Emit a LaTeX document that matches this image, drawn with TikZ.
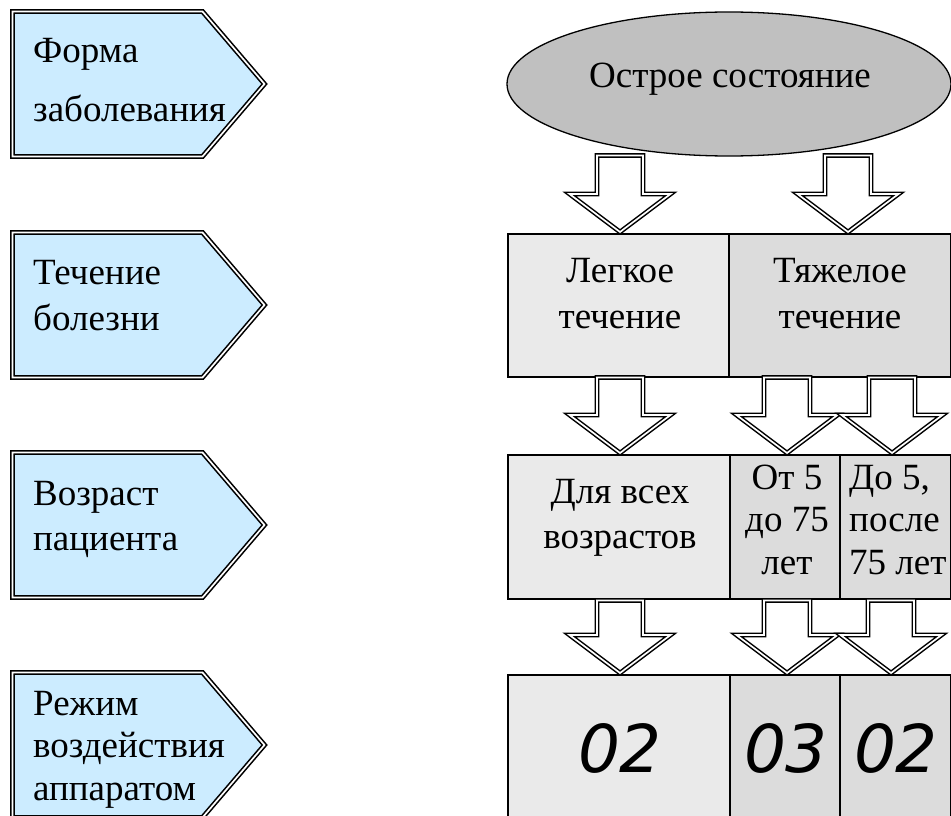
\documentclass[tikz,border=0pt]{standalone}
\usepackage{fontspec}
\setmainfont{Liberation Serif}
\newfontfamily\digitfont{DejaVu Sans}
\usetikzlibrary{shapes.geometric}
\definecolor{bluefill}{RGB}{204,236,255}
\definecolor{cellA}{RGB}{234,234,234}
\definecolor{cellB}{RGB}{220,220,220}
\definecolor{ellfill}{RGB}{192,192,192}
\newcommand{\mylines}[2]{\begin{tabular}[t]{@{}#1@{}}#2\end{tabular}}
\newcommand{\blockarr}[3]{%
  \draw[blockarrow] (#1,#2-1) -- (#1-50.5,#2-39) -- (#1-23,#2-39) -- (#1-23,#2-#3+2.5)
    -- (#1+23,#2-#3+2.5) -- (#1+23,#2-39) -- (#1+50.5,#2-39) -- cycle;}
\newcommand{\labelbox}[1]{%
  \draw[labelshape] (12.5,#1+2.5) -- (202.5,#1+2.5) -- (264.5,#1+75) -- (202.5,#1+147.5) -- (12.5,#1+147.5) -- cycle;}
\tikzset{
  labelshape/.style={fill=bluefill, draw=black, line width=1.6pt, double=white, double distance=1.7pt, line join=miter},
  blockarrow/.style={fill=white, draw=black, line width=1.5pt, double=white, double distance=1.7pt, line join=miter},
  cell/.style={draw=black, line width=1.8pt, inner sep=0pt, anchor=north west},
  txt/.style={inner sep=0pt, font=\fontsize{37}{45}\selectfont},
  digits/.style={inner sep=0pt, anchor=base, font=\digitfont\itshape\fontsize{66}{70}\selectfont},
}
\begin{document}
\begin{tikzpicture}[x=1pt,y=-1pt]
\useasboundingbox (0,0) rectangle (951,816);
% left label boxes
\labelbox{9}
\labelbox{230}
\labelbox{450}
\labelbox{670}
\node[txt, anchor=base west, font=\fontsize{37}{59}\selectfont] (lab1) at (33,63) {\mylines{l}{Форма\\заболевания}};
\node[txt, anchor=base west, font=\fontsize{37}{46}\selectfont] (lab2) at (33,284) {\mylines{l}{Течение\\болезни}};
\node[txt, anchor=base west, font=\fontsize{37}{45}\selectfont] (lab3) at (33,505) {\mylines{l}{Возраст\\пациента}};
\node[txt, anchor=base west, font=\fontsize{37}{42.5}\selectfont] (lab4) at (33,715) {\mylines{l}{Режим\\воздействия\\аппаратом}};
% ellipse
\node[ellipse, draw=black, line width=1.3pt, fill=ellfill, minimum width=444pt, minimum height=144pt, inner sep=0pt] (acute) at (729,84) {};
\node[txt, anchor=base] (acutetxt) at (730,88) {Острое состояние};
% row 1
\node[cell, fill=cellA, minimum width=221pt, minimum height=143pt] (light) at (507,233) {};
\node[cell, fill=cellB, minimum width=222pt, minimum height=143pt] (severe) at (728,233) {};
\node[txt, anchor=base, font=\fontsize{37}{46}\selectfont] (lighttxt) at (620,282) {\mylines{c}{Легкое\\течение}};
\node[txt, anchor=base, font=\fontsize{37}{46}\selectfont] (severetxt) at (840,282) {\mylines{c}{Тяжелое\\течение}};
% row 2
\node[cell, fill=cellA, minimum width=222pt, minimum height=144pt] (allage) at (507,454) {};
\node[cell, fill=cellB, minimum width=110pt, minimum height=144pt] (midage) at (729,454) {};
\node[cell, fill=cellB, minimum width=111pt, minimum height=144pt] (extage) at (839,454) {};
\node[txt, anchor=base, font=\fontsize{37}{45}\selectfont] (allagetxt) at (620,503) {\mylines{c}{Для всех\\возрастов}};
\node[txt, anchor=base, font=\fontsize{37}{42.5}\selectfont] (midagetxt) at (787,489) {\mylines{c}{От 5\\до 75\\лет}};
\node[txt, anchor=base west, font=\fontsize{37}{42.5}\selectfont] (extagetxt) at (849,489) {\mylines{l}{До 5,\\после\\75 лет}};
% row 3
\node[cell, fill=cellA, minimum width=222pt, minimum height=160pt] (modeA) at (507,674) {};
\node[cell, fill=cellB, minimum width=110pt, minimum height=160pt] (modeB) at (729,674) {};
\node[cell, fill=cellB, minimum width=111pt, minimum height=160pt] (modeC) at (839,674) {};
\node[digits] (modeAtxt) at (620,772) {02};
\node[digits] (modeBtxt) at (786,772) {03};
\node[digits] (modeCtxt) at (896,772) {02};
% block arrows
\blockarr{620}{233}{80}
\blockarr{848}{233}{80}
\blockarr{620}{454}{79}
\blockarr{787}{454}{79}
\blockarr{892}{454}{79}
\blockarr{620}{674}{76}
\blockarr{787}{674}{76}
\blockarr{891}{674}{76}
\end{tikzpicture}
\end{document}
